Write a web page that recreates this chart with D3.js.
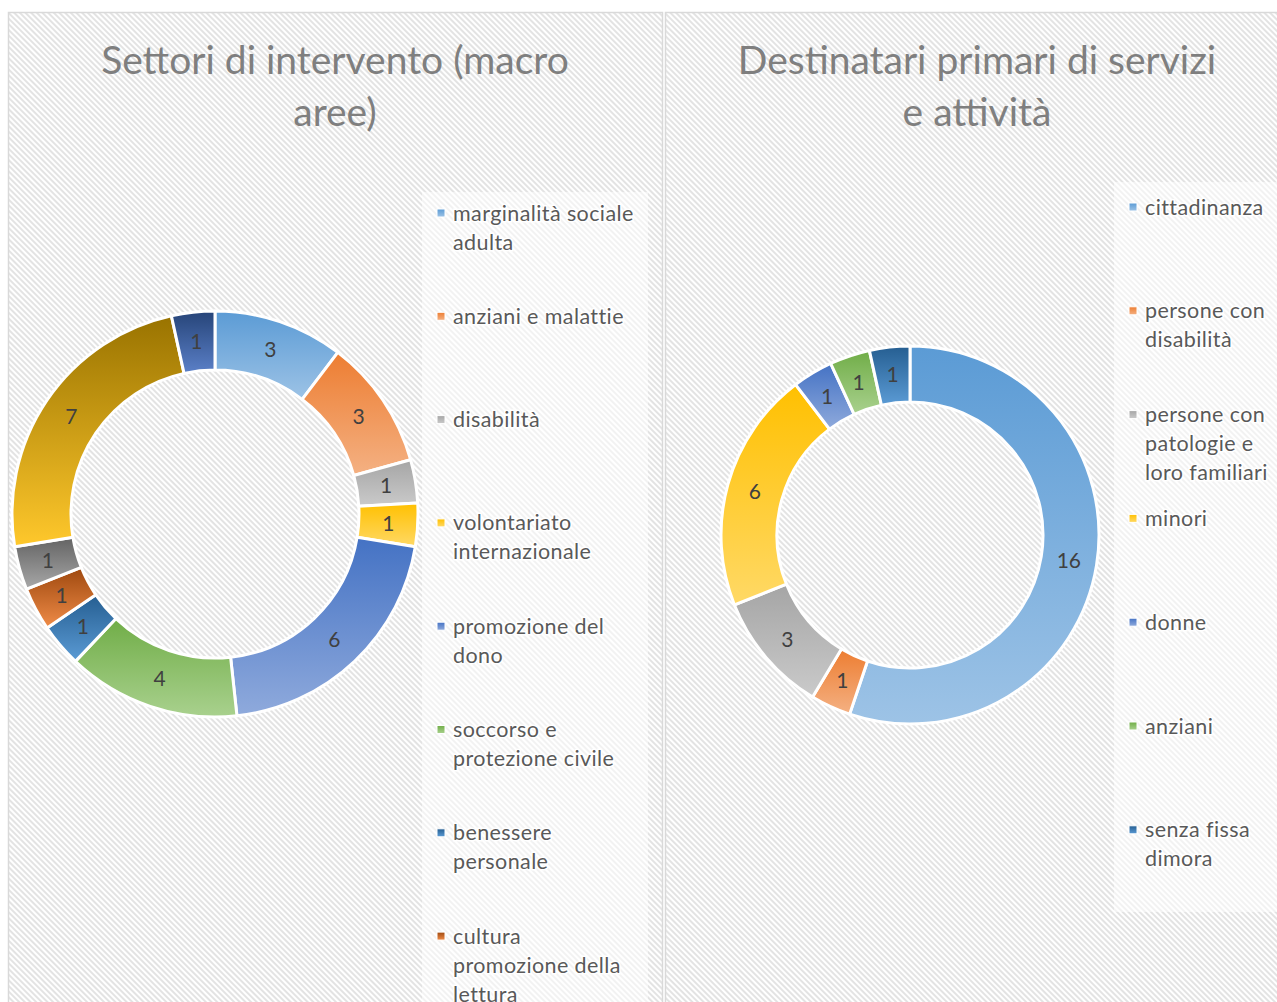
<!DOCTYPE html>
<html>
<head>
<meta charset="utf-8">
<script src="https://cdn.jsdelivr.net/npm/d3@7"></script>
<style>
  body { margin: 0; background: #fff; }
  svg { display: block; }
</style>
</head>
<body>
<div id="chart"></div>
<script>
// --- data ---
const sectorTitle = ["Settori di intervento (macro", "aree)"];
const sectors = [
  "marginalità sociale\nadulta",
  "anziani e malattie",
  "disabilità",
  "volontariato\ninternazionale",
  "promozione del\ndono",
  "soccorso e\nprotezione civile",
  "benessere\npersonale",
  "cultura\npromozione della\nlettura",
  "", "", ""
];
const sectorValues = [3, 3, 1, 1, 6, 4, 1, 1, 1, 7, 1];

const targetTitle = ["Destinatari primari di servizi", "e attività"];
const targets = [
  "cittadinanza",
  "persone con\ndisabilità",
  "persone con\npatologie e\nloro familiari",
  "minori",
  "donne",
  "anziani",
  "senza fissa\ndimora"
];
const targetValues = [16, 1, 3, 6, 1, 1, 1];

// office-like colours: [top, bottom] of each segment gradient
const palette = [
  ["#5B9BD5", "#9DC3E6"],
  ["#ED7D31", "#F4B183"],
  ["#A5A5A5", "#CACACA"],
  ["#FFC000", "#FFD966"],
  ["#4472C4", "#8FAADC"],
  ["#70AD47", "#A9D18E"],
  ["#255E91", "#5B9BD5"],
  ["#9E480E", "#F08C48"],
  ["#636363", "#A8A8A8"],
  ["#997300", "#FFC82C"],
  ["#264478", "#5B80C8"]
];

const W = 1277, H = 1002;
const font = "Lato, 'Open Sans', sans-serif";

const svg = d3.select("#chart").append("svg")
  .attr("width", W)
  .attr("height", H);

const defs = svg.append("defs");

const stripes = defs.append("pattern")
  .attr("id", "stripes")
  .attr("patternUnits", "userSpaceOnUse")
  .attr("width", 4)
  .attr("height", 4)
  .attr("patternTransform", "rotate(-45)");
stripes.append("rect").attr("width", 4).attr("height", 4).attr("fill", "#fff");
stripes.append("rect").attr("width", 2).attr("height", 4).attr("fill", "#e3e3e3");

palette.forEach((c, i) => {
  const grad = defs.append("linearGradient")
    .attr("id", "grad" + i)
    .attr("x1", 0).attr("y1", 0).attr("x2", 0).attr("y2", 1);
  grad.append("stop").attr("offset", "0%").attr("stop-color", c[0]);
  grad.append("stop").attr("offset", "100%").attr("stop-color", c[1]);
});

function drawPanel(o) {
  const g = svg.append("g");

  g.append("rect")
    .attr("x", o.x).attr("y", 12.5)
    .attr("width", o.w).attr("height", H + 20)
    .attr("fill", "url(#stripes)")
    .attr("stroke", "#d9d9d9")
    .attr("stroke-width", 1.5);

  // title
  g.selectAll("text.title")
    .data(o.title)
    .enter()
      .append("text")
        .attr("class", "title")
        .attr("x", o.titleX)
        .attr("y", (d, i) => 74 + i * 52)
        .attr("text-anchor", "middle")
        .attr("font-family", font)
        .attr("font-size", 39)
        .attr("fill", "#7f7f7f")
        .text(d => d);

  // legend box
  g.append("rect")
    .attr("x", o.legendBox[0]).attr("y", o.legendBox[1])
    .attr("width", o.legendBox[2]).attr("height", o.legendBox[3])
    .attr("fill", "#fff")
    .attr("fill-opacity", 0.55);

  // donut
  const pie = d3.pie().sort(null).value(d => d);
  const arcs = pie(o.values);
  const arc = d3.arc().innerRadius(o.r0).outerRadius(o.r1);
  const labelArc = d3.arc().innerRadius((o.r0 + o.r1) / 2).outerRadius((o.r0 + o.r1) / 2);

  const donut = g.append("g")
    .attr("transform", "translate(" + o.cx + "," + o.cy + ")");

  donut.selectAll("path")
    .data(arcs)
    .enter()
      .append("path")
        .attr("d", arc)
        .attr("fill", (d, i) => "url(#grad" + i + ")")
        .attr("stroke", "#fff")
        .attr("stroke-width", 3)
        .attr("stroke-linejoin", "round");

  donut.selectAll("text")
    .data(arcs)
    .enter()
      .append("text")
        .attr("transform", d => "translate(" + labelArc.centroid(d) + ")")
        .attr("text-anchor", "middle")
        .attr("dy", "0.35em")
        .attr("font-family", font)
        .attr("font-size", 21)
        .attr("fill", "#404040")
        .text(d => d.data);

  // legend
  const items = g.selectAll("g.legend")
    .data(o.names)
    .enter()
      .append("g")
        .attr("class", "legend")
        .attr("transform", (d, i) => "translate(" + o.lx + "," + (o.ly + i * o.step) + ")");

  items.filter(d => d !== "")
    .append("rect")
      .attr("x", 0).attr("y", -4)
      .attr("width", 8).attr("height", 8)
      .attr("fill", d => "url(#grad" + o.names.indexOf(d) + ")")
      .attr("stroke", "#fff")
      .attr("stroke-width", 1);

  items.each(function(d) {
    const lines = d.split("\n");
    d3.select(this).selectAll("text")
      .data(lines)
      .enter()
        .append("text")
          .attr("x", 16)
          .attr("y", (l, j) => j * 29)
          .attr("dy", "0.35em")
          .attr("font-family", font)
          .attr("font-size", 21.5)
          .attr("letter-spacing", 0.4)
          .attr("fill", "#595959")
          .attr("stroke", "#fff")
          .attr("stroke-width", 3)
          .attr("paint-order", "stroke")
          .text(l => l);
  });
}

drawPanel({
  x: 8.5, w: 654, titleX: 335, title: sectorTitle,
  values: sectorValues, names: sectors,
  cx: 215, cy: 514, r0: 144, r1: 203,
  lx: 437, ly: 213, step: 103.3,
  legendBox: [422, 192, 226, 830]
});

drawPanel({
  x: 665.5, w: 640, titleX: 977, title: targetTitle,
  values: targetValues, names: targets,
  cx: 910, cy: 535, r0: 133, r1: 189,
  lx: 1129, ly: 207, step: 103.8,
  legendBox: [1114, 182, 170, 730]
});
</script>
</body>
</html>
